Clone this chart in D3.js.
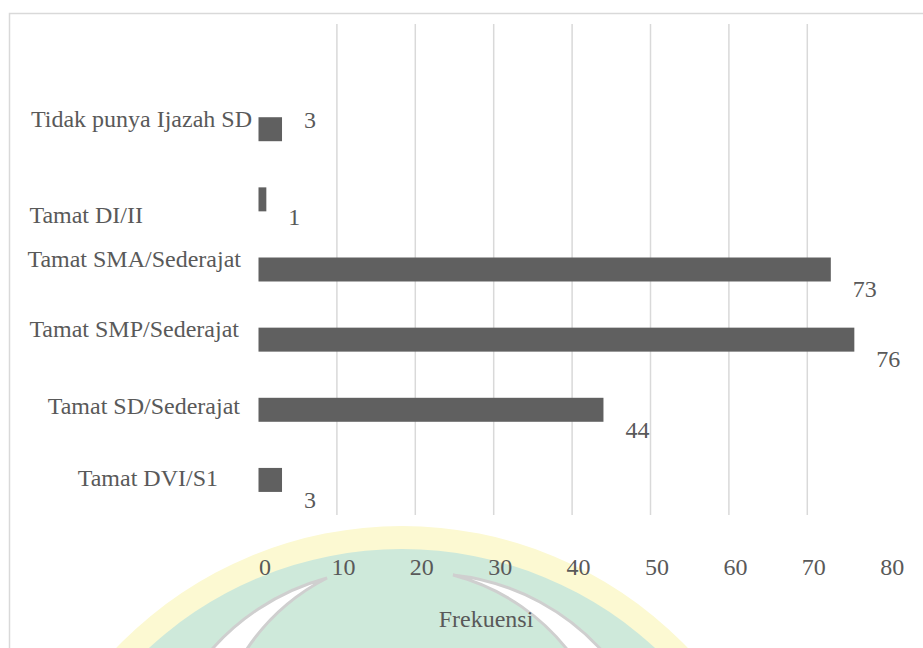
<!DOCTYPE html>
<html>
<head>
<meta charset="utf-8">
<script src="https://cdn.jsdelivr.net/npm/d3@7"></script>
<style>
  html, body { margin: 0; padding: 0; background: #ffffff; }
  svg { display: block; }
</style>
</head>
<body>
<svg id="chart" width="923" height="648"></svg>
<script>
// ---- data ----
const categories = [
  "Tidak punya Ijazah SD",
  "Tamat DI/II",
  "Tamat SMA/Sederajat",
  "Tamat SMP/Sederajat",
  "Tamat SD/Sederajat",
  "Tamat DVI/S1"
];
const values = [3, 1, 73, 76, 44, 3];
const tickValues = [0, 10, 20, 30, 40, 50, 60, 70, 80];
const axisTitle = "Frekuensi";

// ---- layout tweaks (as in the reference picture) ----
const catLabelDx = [12, -97, 1, -1, 0, -22];
const catLabelDy = [-2.6, 23.2, -2.6, -2.4, 4.7, 6.3];
const valLabelDy = [-1.6, 25.8, 27.4, 27.6, 28, 28.2];

const FONT = "Liberation Serif";
const TEXT_COLOR = "#595959";

const svg = d3.select("#chart");

// ---- watermark (background) ----
const wm = svg.append("g");
wm.append("circle").attr("cx", 402).attr("cy", 922).attr("r", 396).attr("fill", "#fcf9d2");
wm.append("circle").attr("cx", 402).attr("cy", 922).attr("r", 373).attr("fill", "#cee9da");
function crescent(tip, outerBottom, innerBottom, rOuter, rInner, sweepOuter) {
  const so = sweepOuter, si = 1 - sweepOuter;
  return `M${tip[0]},${tip[1]} A${rOuter},${rOuter} 0 0 ${so} ${outerBottom[0]},${outerBottom[1]}` +
         ` L${innerBottom[0]},${innerBottom[1]} A${rInner},${rInner} 0 0 ${si} ${tip[0]},${tip[1]} Z`;
}
wm.append("path")
  .attr("d", crescent([453, 575], [610, 660], [575, 660], 235, 215, 1))
  .attr("fill", "#ffffff").attr("stroke", "#cfcfcf").attr("stroke-width", 3);
wm.append("path")
  .attr("d", crescent([327, 578], [203, 660], [240, 660], 235, 215, 0))
  .attr("fill", "#ffffff").attr("stroke", "#cfcfcf").attr("stroke-width", 3);

// ---- frame ----
svg.append("rect")
  .attr("x", 9.5).attr("y", 13.5).attr("width", 930).attr("height", 660)
  .attr("fill", "none").attr("stroke", "#d9d9d9").attr("stroke-width", 1.5);

// ---- scales ----
const plotTop = 24, plotBottom = 515;
const slot = (plotBottom - plotTop) / (categories.length + 1);
const x = d3.scaleLinear().domain([0, 80]).range([258.5, 258.5 + 80 * 7.84]);
const y = d3.scaleBand()
  .domain(categories)
  .range([plotTop + slot, plotBottom])
  .paddingInner(0.658)
  .paddingOuter(0.329);

// ---- gridlines ----
svg.append("g")
  .selectAll("line")
  .data(tickValues.filter(v => v > 0 && v < 80))
  .join("line")
  .attr("x1", d => x(d)).attr("x2", d => x(d))
  .attr("y1", plotTop).attr("y2", plotBottom)
  .attr("stroke", "#d9d9d9").attr("stroke-width", 1.5);

// ---- x axis tick labels ----
const xAxis = d3.axisBottom(x).tickValues(tickValues).tickSize(0).tickPadding(0);
const gx = svg.append("g").attr("transform", "translate(6,575)").call(xAxis)
  .attr("font-family", FONT).attr("font-size", 24);
gx.select(".domain").remove();
gx.selectAll("text")
  .attr("dy", 0).attr("y", 0)
  .attr("font-family", FONT)
  .attr("font-size", 24)
  .attr("fill", TEXT_COLOR);

// ---- bars ----
svg.append("g")
  .selectAll("rect")
  .data(categories)
  .join("rect")
  .attr("x", x(0))
  .attr("y", d => y(d))
  .attr("width", (d, i) => x(values[i]) - x(0))
  .attr("height", y.bandwidth())
  .attr("fill", "#606060");

// ---- category labels ----
svg.append("g")
  .attr("font-family", FONT).attr("font-size", 24).attr("fill", TEXT_COLOR)
  .selectAll("text")
  .data(categories)
  .join("text")
  .attr("x", (d, i) => 240 + catLabelDx[i])
  .attr("y", (d, i) => y(d) + y.bandwidth() / 2 + catLabelDy[i])
  .attr("text-anchor", "end")
  .text(d => d);

// ---- value labels ----
svg.append("g")
  .attr("font-family", FONT).attr("font-size", 24).attr("fill", TEXT_COLOR)
  .selectAll("text")
  .data(categories)
  .join("text")
  .attr("x", (d, i) => x(values[i]) + 22)
  .attr("y", (d, i) => y(d) + y.bandwidth() / 2 + valLabelDy[i])
  .attr("text-anchor", "start")
  .text((d, i) => values[i]);

// ---- axis title ----
svg.append("text")
  .attr("x", 486).attr("y", 626.5)
  .attr("text-anchor", "middle")
  .attr("font-family", FONT).attr("font-size", 24).attr("fill", TEXT_COLOR)
  .text(axisTitle);
</script>
</body>
</html>
